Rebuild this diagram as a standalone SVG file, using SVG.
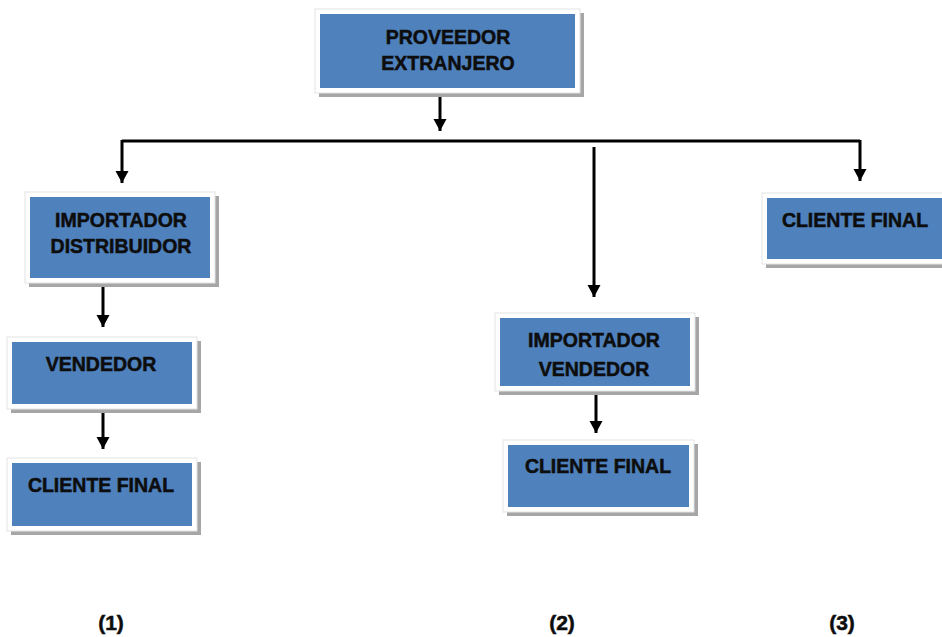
<svg xmlns="http://www.w3.org/2000/svg" width="942" height="637" viewBox="0 0 942 637">
<style>
.sh{fill:#a6a6a6}
.bd{fill:#ffffff;stroke:#e3e3e3;stroke-width:1}
.bx{fill:#4f81bd}
.t{font-family:"Liberation Sans",Arial,sans-serif;font-weight:bold;font-size:19.5px;fill:#0d0d0d;stroke:#0d0d0d;stroke-width:0.5;text-anchor:middle}
.lb{font-family:"Liberation Sans",Arial,sans-serif;font-weight:bold;font-size:21px;fill:#0d0d0d;stroke:#0d0d0d;stroke-width:0.5;text-anchor:middle}
.c{fill:none;stroke:#000;stroke-width:3}
</style>
<defs>
<marker id="ah" markerUnits="userSpaceOnUse" markerWidth="14" markerHeight="14" viewBox="0 0 14 14" refX="12" refY="7" orient="auto">
<path d="M0,0.5 L12,7 L0,13.5 Z" fill="#000"/>
</marker>
</defs>
<rect width="942" height="637" fill="#ffffff"/>
<g id="connectors">
<path class="c" d="M440,93 V131" marker-end="url(#ah)"/>
<path class="c" d="M122,141 H860"/>
<path class="c" d="M122,140 V183" marker-end="url(#ah)"/>
<path class="c" d="M860,140 V181" marker-end="url(#ah)"/>
<path class="c" d="M594,147 V297" marker-end="url(#ah)"/>
<path class="c" d="M103,285 V327" marker-end="url(#ah)"/>
<path class="c" d="M103,409 V449" marker-end="url(#ah)"/>
<path class="c" d="M596,392 V433" marker-end="url(#ah)"/>
</g>
<g id="proveedor">
<rect class="sh" x="319" y="13" width="265" height="84"/>
<rect class="bd" x="315" y="9" width="265" height="84"/>
<rect class="bx" x="320" y="14" width="255" height="74"/>
<text class="t" x="448" y="44">PROVEEDOR</text>
<text class="t" x="448" y="70">EXTRANJERO</text>
</g>
<g id="importador-distribuidor">
<rect class="sh" x="29" y="196" width="190" height="91"/>
<rect class="bd" x="25" y="192" width="190" height="91"/>
<rect class="bx" x="30" y="197" width="180" height="81"/>
<text class="t" x="121" y="227">IMPORTADOR</text>
<text class="t" x="121" y="253">DISTRIBUIDOR</text>
</g>
<g id="vendedor">
<rect class="sh" x="11" y="341" width="190" height="72"/>
<rect class="bd" x="7" y="337" width="190" height="72"/>
<rect class="bx" x="12" y="342" width="180" height="62"/>
<text class="t" x="101" y="371">VENDEDOR</text>
</g>
<g id="cliente-final-1">
<rect class="sh" x="11" y="462" width="190" height="73"/>
<rect class="bd" x="7" y="458" width="190" height="73"/>
<rect class="bx" x="12" y="463" width="180" height="63"/>
<text class="t" x="101" y="492">CLIENTE FINAL</text>
</g>
<g id="importador-vendedor">
<rect class="sh" x="499" y="317" width="200" height="78"/>
<rect class="bd" x="495" y="313" width="200" height="78"/>
<rect class="bx" x="500" y="318" width="190" height="68"/>
<text class="t" x="594" y="347">IMPORTADOR</text>
<text class="t" x="594" y="376">VENDEDOR</text>
</g>
<g id="cliente-final-2">
<rect class="sh" x="507" y="444" width="191" height="72"/>
<rect class="bd" x="503" y="440" width="191" height="72"/>
<rect class="bx" x="508" y="445" width="181" height="62"/>
<text class="t" x="598" y="473">CLIENTE FINAL</text>
</g>
<g id="cliente-final-3">
<rect class="sh" x="766" y="197" width="190" height="71"/>
<rect class="bd" x="762" y="193" width="190" height="71"/>
<rect class="bx" x="767" y="198" width="180" height="61"/>
<text class="t" x="855" y="227">CLIENTE FINAL</text>
</g>
<g id="labels">
<text class="lb" x="111" y="630">(1)</text>
<text class="lb" x="562" y="630">(2)</text>
<text class="lb" x="842" y="630">(3)</text>
</g>
</svg>
